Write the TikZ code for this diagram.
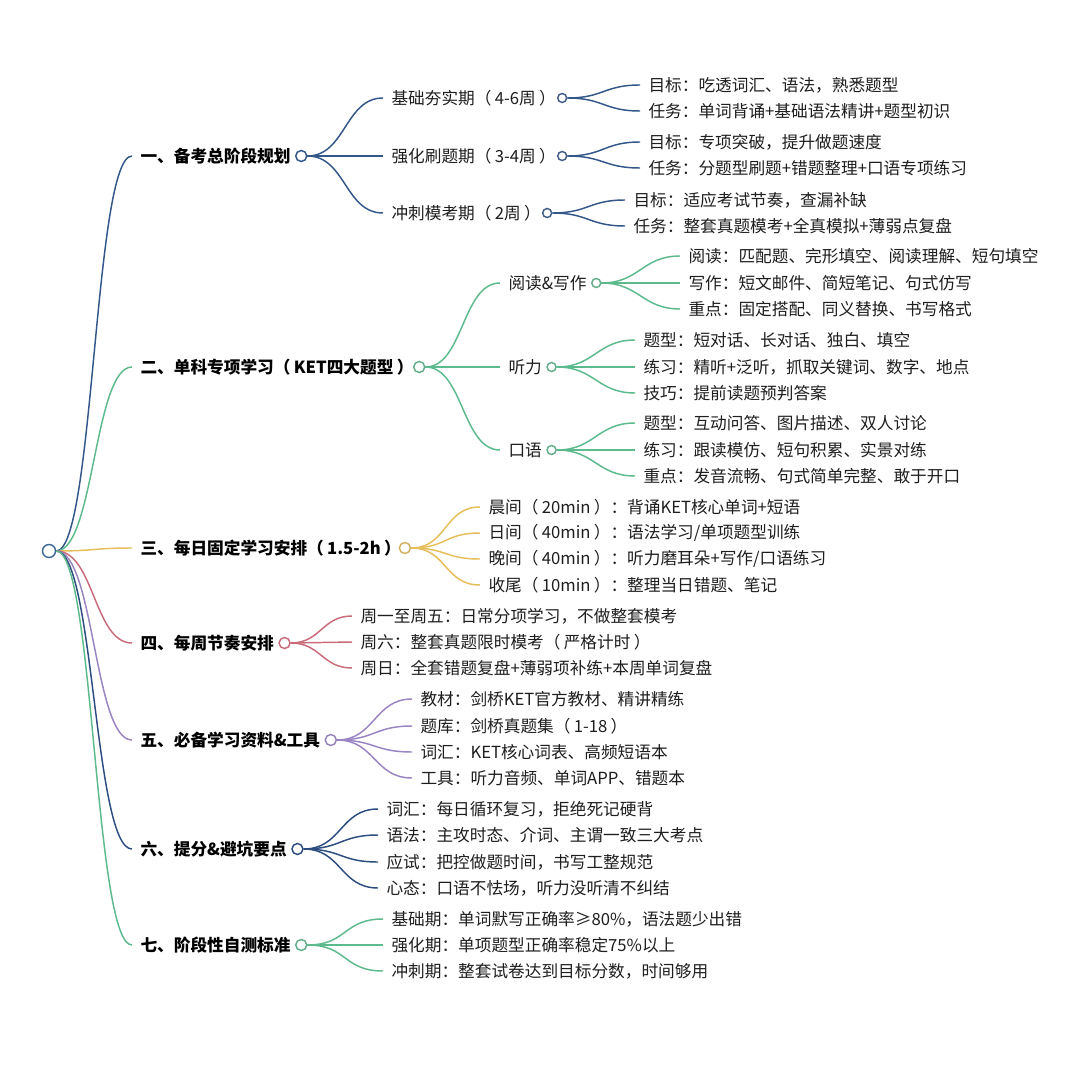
\documentclass[tikz,border=0pt]{standalone}
\usepackage{fontspec}
\setmainfont{Noto Sans CJK SC}
\usetikzlibrary{positioning}

\definecolor{rootc}{HTML}{3E6A9A}
\definecolor{cnavy}{HTML}{34578A}
\definecolor{cgreen}{HTML}{5DBA8D}
\definecolor{cyellow}{HTML}{E6BE5A}
\definecolor{crose}{HTML}{C86C7A}
\definecolor{cpurple}{HTML}{9A84C2}
\definecolor{cblue}{HTML}{2D4D80}
\definecolor{ink}{HTML}{1E1E1E}

% full-width parentheses with the open spacing of the original
\newcommand{\lpar}{（\kern.2em}
\newcommand{\rpar}{\kern.2em）}

\tikzset{every picture/.style={line width=0.75pt},
  topic/.style={anchor=west, inner xsep=6pt, inner ysep=1pt, text=black, font=\fontsize{12.5}{15}\selectfont\bfseries},
  sub/.style={anchor=west, inner xsep=6pt, inner ysep=1pt, text=ink, font=\fontsize{12.5}{15}\selectfont},
  leaf/.style={anchor=west, inner xsep=6pt, inner ysep=1pt, text=ink, font=\fontsize{12.5}{15}\selectfont},
  dot/.style={circle, draw=#1, fill=white, line width=1.1pt, inner sep=0pt, minimum size=6.75pt},
  bigdot/.style={dot=#1, minimum size=8.25pt},
  link/.style={draw=#1, line width=1.1pt},
}

\begin{document}
\begin{tikzpicture}[x=0.75pt,y=0.75pt,yscale=-1,xscale=1]
	\fill[white] (0,0) rectangle (1080,1080);
	\useasboundingbox (0,0) rectangle (1080,1080);
	
	% Root
	\node[dot=rootc, minimum size=9.75pt] (r) at (49,551) {};
	
	% Topic nodes
	\node[topic] (t1) at (132,156) {一、备考总阶段规划};
	\node[topic] (t2) at (132,367) {二、单科专项学习\lpar KET四大题型\rpar\kern-.3em};
	\node[topic] (t3) at (132,548) {三、每日固定学习安排\lpar 1.5-2h\rpar\kern-.4em};
	\node[topic] (t4) at (132,643) {四、每周节奏安排};
	\node[topic] (t5) at (132,740) {五、必备学习资料\&工具};
	\node[topic] (t6) at (132,849) {六、提分\&避坑要点};
	\node[topic] (t7) at (132,945) {七、阶段性自测标准};
	\node[bigdot=cnavy, right=-3pt of t1] (o1) {};
	\node[bigdot=cgreen!80!gray, right=-3pt of t2] (o2) {};
	\node[bigdot=cyellow!80!gray, right=-3pt of t3] (o3) {};
	\node[bigdot=crose, right=-3pt of t4] (o4) {};
	\node[bigdot=cpurple!80!gray, right=-3pt of t5] (o5) {};
	\node[bigdot=cblue, right=-3pt of t6] (o6) {};
	\node[bigdot=cgreen!80!gray, right=-3pt of t7] (o7) {};
	
	% Root curves
	\draw[link=cnavy] (r.east) .. controls +(38,0) and +(-38,0) .. (t1.west);
	\draw[link=cgreen] (r.east) .. controls +(38,0) and +(-38,0) .. (t2.west);
	\draw[link=cyellow] (r.east) .. controls +(38,0) and +(-38,0) .. (t3.west);
	\draw[link=crose] (r.east) .. controls +(38,0) and +(-38,0) .. (t4.west);
	\draw[link=cpurple] (r.east) .. controls +(38,0) and +(-38,0) .. (t5.west);
	\draw[link=cblue] (r.east) .. controls +(38,0) and +(-38,0) .. (t6.west);
	\draw[link=cgreen] (r.east) .. controls +(38,0) and +(-38,0) .. (t7.west);
	
	% Branch 1
	\node[sub] (s11) at (383,98) {基础夯实期\lpar 4-6周\rpar\kern-.2em};
	\node[sub] (s12) at (383,156) {强化刷题期\lpar 3-4周\rpar\kern-.2em};
	\node[sub] (s13) at (383,213) {冲刺模考期\lpar 2周\rpar\kern-.2em};
	\node[dot=cnavy!80!gray, right=-3pt of s11] (o11) {};
	\node[dot=cnavy!80!gray, right=-3pt of s12] (o12) {};
	\node[dot=cnavy!80!gray, right=-3pt of s13] (o13) {};
	\draw[link=cnavy] (o1.east) .. controls +(38,0) and +(-38,0) .. (s11.west);
	\draw[link=cnavy] (o1.east) .. controls +(38,0) and +(-38,0) .. (s12.west);
	\draw[link=cnavy] (o1.east) .. controls +(38,0) and +(-38,0) .. (s13.west);
	
	\node[leaf] (l111) at (640,85) {目标：吃透词汇、语法，熟悉题型};
	\node[leaf] (l112) at (640,111) {任务：单词背诵+基础语法精讲+题型初识};
	\node[leaf] (l121) at (640,142) {目标：专项突破，提升做题速度};
	\node[leaf] (l122) at (640,168) {任务：分题型刷题+错题整理+口语专项练习};
	\node[leaf] (l131) at (625,200) {目标：适应考试节奏，查漏补缺};
	\node[leaf] (l132) at (625,226) {任务：整套真题模考+全真模拟+薄弱点复盘};
	\draw[link=cnavy] (o11.east) .. controls +(36,0) and +(-36,0) .. (l111.west);
	\draw[link=cnavy] (o11.east) .. controls +(36,0) and +(-36,0) .. (l112.west);
	\draw[link=cnavy] (o12.east) .. controls +(36,0) and +(-36,0) .. (l121.west);
	\draw[link=cnavy] (o12.east) .. controls +(36,0) and +(-36,0) .. (l122.west);
	\draw[link=cnavy] (o13.east) .. controls +(36,0) and +(-36,0) .. (l131.west);
	\draw[link=cnavy] (o13.east) .. controls +(36,0) and +(-36,0) .. (l132.west);
	
	% Branch 2
	\node[sub] (s21) at (500,283) {阅读\&写作};
	\node[sub] (s22) at (500,367) {听力};
	\node[sub] (s23) at (500,450) {口语};
	\node[dot=cgreen!80!gray, right=-3pt of s21] (o21) {};
	\node[dot=cgreen!80!gray, right=-3pt of s22] (o22) {};
	\node[dot=cgreen!80!gray, right=-3pt of s23] (o23) {};
	\draw[link=cgreen] (o2.east) .. controls +(38,0) and +(-38,0) .. (s21.west);
	\draw[link=cgreen] (o2.east) .. controls +(38,0) and +(-38,0) .. (s22.west);
	\draw[link=cgreen] (o2.east) .. controls +(38,0) and +(-38,0) .. (s23.west);
	
	\node[leaf] (l211) at (680,256) {阅读：匹配题、完形填空、阅读理解、短句填空};
	\node[leaf] (l212) at (680,283) {写作：短文邮件、简短笔记、句式仿写};
	\node[leaf] (l213) at (680,309) {重点：固定搭配、同义替换、书写格式};
	\node[leaf] (l221) at (635,340) {题型：短对话、长对话、独白、填空};
	\node[leaf] (l222) at (635,367) {练习：精听+泛听，抓取关键词、数字、地点};
	\node[leaf] (l223) at (635,393) {技巧：提前读题预判答案};
	\node[leaf] (l231) at (635,423) {题型：互动问答、图片描述、双人讨论};
	\node[leaf] (l232) at (635,450) {练习：跟读模仿、短句积累、实景对练};
	\node[leaf] (l233) at (635,476) {重点：发音流畅、句式简单完整、敢于开口};
	\draw[link=cgreen] (o21.east) .. controls +(38,0) and +(-38,0) .. (l211.west);
	\draw[link=cgreen] (o21.east) .. controls +(38,0) and +(-38,0) .. (l212.west);
	\draw[link=cgreen] (o21.east) .. controls +(38,0) and +(-38,0) .. (l213.west);
	\draw[link=cgreen] (o22.east) .. controls +(38,0) and +(-38,0) .. (l221.west);
	\draw[link=cgreen] (o22.east) .. controls +(38,0) and +(-38,0) .. (l222.west);
	\draw[link=cgreen] (o22.east) .. controls +(38,0) and +(-38,0) .. (l223.west);
	\draw[link=cgreen] (o23.east) .. controls +(38,0) and +(-38,0) .. (l231.west);
	\draw[link=cgreen] (o23.east) .. controls +(38,0) and +(-38,0) .. (l232.west);
	\draw[link=cgreen] (o23.east) .. controls +(38,0) and +(-38,0) .. (l233.west);
	
	% Branch 3
	\node[leaf] (l31) at (480,507) {晨间\lpar 20min\rpar：背诵KET核心单词+短语};
	\node[leaf] (l32) at (480,533) {日间\lpar 40min\rpar：语法学习/单项题型训练};
	\node[leaf] (l33) at (480,559) {晚间\lpar 40min\rpar：听力磨耳朵+写作/口语练习};
	\node[leaf] (l34) at (480,585) {收尾\lpar 10min\rpar：整理当日错题、笔记};
	\draw[link=cyellow] (o3.east) .. controls +(36,0) and +(-36,0) .. (l31.west);
	\draw[link=cyellow] (o3.east) .. controls +(36,0) and +(-36,0) .. (l32.west);
	\draw[link=cyellow] (o3.east) .. controls +(36,0) and +(-36,0) .. (l33.west);
	\draw[link=cyellow] (o3.east) .. controls +(36,0) and +(-36,0) .. (l34.west);
	
	% Branch 4
	\node[leaf] (l41) at (352,616) {周一至周五：日常分项学习，不做整套模考};
	\node[leaf] (l42) at (352,642) {周六：整套真题限时模考\lpar 严格计时\rpar};
	\node[leaf] (l43) at (352,668) {周日：全套错题复盘+薄弱项补练+本周单词复盘};
	\draw[link=crose] (o4.east) .. controls +(30,0) and +(-30,0) .. (l41.west);
	\draw[link=crose] (o4.east) .. controls +(30,0) and +(-30,0) .. (l42.west);
	\draw[link=crose] (o4.east) .. controls +(30,0) and +(-30,0) .. (l43.west);
	
	% Branch 5
	\node[leaf] (l51) at (412,699) {教材：剑桥KET官方教材、精讲精练};
	\node[leaf] (l52) at (412,726) {题库：剑桥真题集\lpar 1-18\rpar};
	\node[leaf] (l53) at (412,752) {词汇：KET核心词表、高频短语本};
	\node[leaf] (l54) at (412,778) {工具：听力音频、单词APP、错题本};
	\draw[link=cpurple] (o5.east) .. controls +(38,0) and +(-38,0) .. (l51.west);
	\draw[link=cpurple] (o5.east) .. controls +(38,0) and +(-38,0) .. (l52.west);
	\draw[link=cpurple] (o5.east) .. controls +(38,0) and +(-38,0) .. (l53.west);
	\draw[link=cpurple] (o5.east) .. controls +(38,0) and +(-38,0) .. (l54.west);
	
	% Branch 6
	\node[leaf] (l61) at (378,809) {词汇：每日循环复习，拒绝死记硬背};
	\node[leaf] (l62) at (378,835) {语法：主攻时态、介词、主谓一致三大考点};
	\node[leaf] (l63) at (378,862) {应试：把控做题时间，书写工整规范};
	\node[leaf] (l64) at (378,888) {心态：口语不怯场，听力没听清不纠结};
	\draw[link=cblue] (o6.east) .. controls +(38,0) and +(-38,0) .. (l61.west);
	\draw[link=cblue] (o6.east) .. controls +(38,0) and +(-38,0) .. (l62.west);
	\draw[link=cblue] (o6.east) .. controls +(38,0) and +(-38,0) .. (l63.west);
	\draw[link=cblue] (o6.east) .. controls +(38,0) and +(-38,0) .. (l64.west);
	
	% Branch 7
	\node[leaf] (l71) at (383,919) {基础期：单词默写正确率≥80\%，语法题少出错};
	\node[leaf] (l72) at (383,945) {强化期：单项题型正确率稳定75\%以上};
	\node[leaf] (l73) at (383,971) {冲刺期：整套试卷达到目标分数，时间够用};
	\draw[link=cgreen] (o7.east) .. controls +(40,0) and +(-40,0) .. (l71.west);
	\draw[link=cgreen] (o7.east) .. controls +(40,0) and +(-40,0) .. (l72.west);
	\draw[link=cgreen] (o7.east) .. controls +(40,0) and +(-40,0) .. (l73.west);
	
\end{tikzpicture}
\end{document}
